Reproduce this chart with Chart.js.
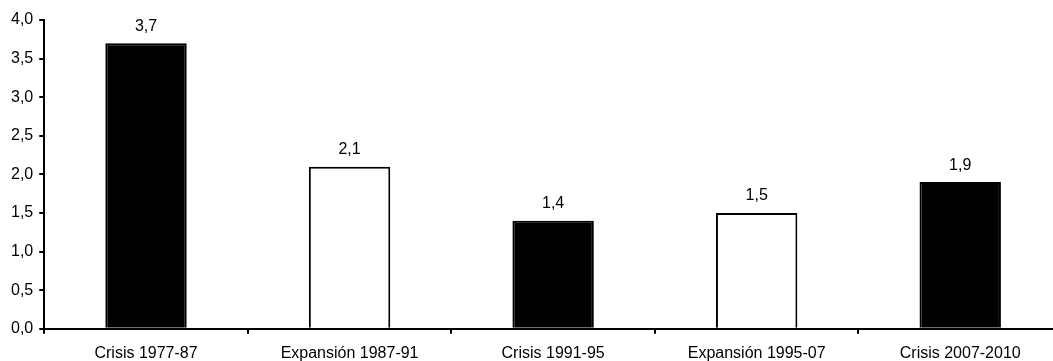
<!DOCTYPE html>
<html>
<head>
<meta charset="utf-8">
<script src="https://cdn.jsdelivr.net/npm/chart.js@4.4.0/dist/chart.umd.min.js"></script>
<style>
  html, body { margin: 0; padding: 0; background: #fff; overflow: hidden; }
  .wrap { width: 1064px; height: 373px; }
</style>
</head>
<body>
<div class="wrap"><canvas id="myChart"></canvas></div>
<script>
const CATEGORIES = ['Crisis 1977-87', 'Expansión 1987-91', 'Crisis 1991-95', 'Expansión 1995-07', 'Crisis 2007-2010'];
const VALUES = [3.7, 2.1, 1.4, 1.5, 1.9];
const FILLS = ['#000000', '#ffffff', '#000000', '#ffffff', '#000000'];
const Y_MIN = 0;
const Y_MAX = 4;
const Y_STEP = 0.5;

const FONT = { family: '"Liberation Sans", Arial, sans-serif', size: 16 };

function formatComma(v) {
  return v.toFixed(1).replace('.', ',');
}

// numbers above each bar
const valueLabels = {
  id: 'valueLabels',
  afterDatasetsDraw(chart) {
    const ctx = chart.ctx;
    const meta = chart.getDatasetMeta(0);
    ctx.save();
    ctx.font = `${FONT.size}px ${FONT.family}`;
    ctx.fillStyle = '#000';
    ctx.textAlign = 'center';
    ctx.textBaseline = 'bottom';
    meta.data.forEach((bar, i) => {
      ctx.fillText(formatComma(VALUES[i]), bar.x, bar.y - 9);
    });
    ctx.restore();
  },
};

const CHART = document.getElementById('myChart').getContext('2d');

new Chart(CHART, {
  type: 'bar',
  data: {
    labels: CATEGORIES,
    datasets: [
      {
        data: VALUES,
        backgroundColor: FILLS,
        borderColor: '#000000',
        borderWidth: 2,
        barPercentage: 0.4,
        categoryPercentage: 1,
      },
    ],
  },
  options: {
    responsive: true,
    maintainAspectRatio: false,
    animation: false,
    layout: { padding: { left: 5, top: 20, right: 2, bottom: 0 } },
    plugins: {
      legend: { display: false },
      tooltip: { enabled: false },
    },
    scales: {
      x: {
        grid: {
          offset: true,
          drawOnChartArea: false,
          drawTicks: true,
          tickLength: 5,
          color: '#000',
          lineWidth: 2,
        },
        border: { color: '#000', width: 2 },
        ticks: { color: '#000', font: FONT, padding: 10, maxRotation: 0 },
      },
      y: {
        min: Y_MIN,
        max: Y_MAX,
        grid: {
          drawOnChartArea: false,
          drawTicks: true,
          tickLength: 5,
          color: '#000',
          lineWidth: 2,
        },
        border: { color: '#000', width: 2 },
        ticks: {
          stepSize: Y_STEP,
          color: '#000',
          font: FONT,
          padding: 6,
          callback: (v) => formatComma(v),
        },
      },
    },
  },
  plugins: [valueLabels],
});
</script>
</body>
</html>
